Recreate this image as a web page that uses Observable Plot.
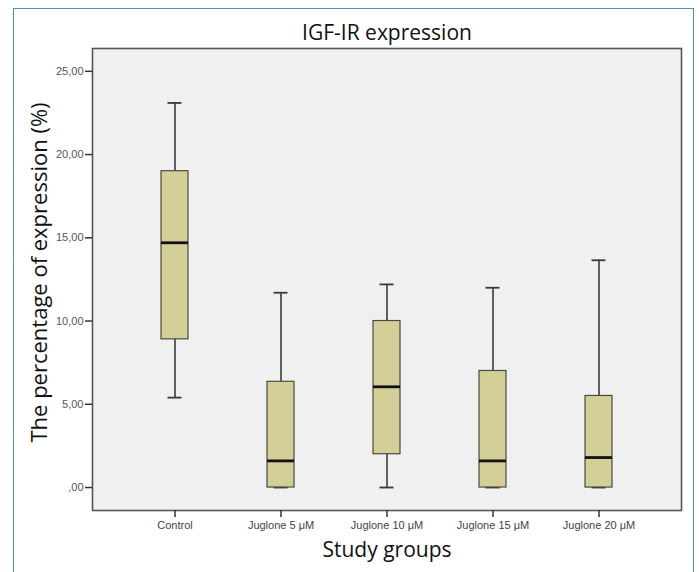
<!DOCTYPE html>
<html>
<head>
<meta charset="utf-8">
<script src="https://cdn.jsdelivr.net/npm/d3@7"></script>
<script src="https://cdn.jsdelivr.net/npm/@observablehq/plot@0.6"></script>
<style>
  html, body { margin: 0; padding: 0; background: #fff; }
  #wrap { position: relative; width: 699px; height: 572px; overflow: hidden; }
  #border { position: absolute; left: 13px; top: 8px; width: 681px; height: 600px;
            border: 1.5px solid #4a93bd; box-sizing: border-box; }
  #chart { position: absolute; left: 0; top: 0; }
</style>
</head>
<body>
<div id="wrap"><div id="border"></div><div id="chart"></div></div>
<script>
const groups = ["Control", "Juglone 5 μM", "Juglone 10 μM", "Juglone 15 μM", "Juglone 20 μM"];
const lowerWhisker = [5.4, 0, 0, 0, 0];
const q1 = [8.9, 0, 2.0, 0, 0];
const median = [14.7, 1.6, 6.05, 1.6, 1.8];
const q3 = [19.0, 6.35, 10.0, 7.0, 5.5];
const upperWhisker = [23.1, 11.7, 12.2, 12.0, 13.65];
const yTicks = [0, 5, 10, 15, 20, 25];
const title = "IGF-IR expression";
const xLabel = "Study groups";
const yLabel = "The percentage of expression (%)";

const data = groups.map((g, i) => ({
  group: g, lo: lowerWhisker[i], q1: q1[i], med: median[i], q3: q3[i], hi: upperWhisker[i]
}));

const fmt = d => d === 0 ? ",00" : d.toFixed(2).replace(".", ",");
const labelFont = "'Open Sans', 'Noto Sans', sans-serif";

const chart = Plot.plot({
  width: 699,
  height: 572,
  marginLeft: 92,
  marginRight: 18,
  marginTop: 48,
  marginBottom: 62,
  style: { background: "transparent", fontFamily: "'Liberation Sans', Arial, sans-serif" },
  x: { type: "band", domain: groups, paddingInner: 0.745, paddingOuter: 0.65 },
  y: { domain: [-1.38, 26.37] },
  marks: [
    Plot.frame({ fill: "#f0f0f0", stroke: "none" }),
    Plot.ruleX(data, { x: "group", y1: "lo", y2: "hi", stroke: "#3a3a3a", strokeWidth: 1.6 }),
    Plot.tickY(data, { x: "group", y: "hi", stroke: "#3a3a3a", strokeWidth: 1.8, insetLeft: 6.5, insetRight: 6.5 }),
    Plot.tickY(data, { x: "group", y: "lo", stroke: "#3a3a3a", strokeWidth: 1.8, insetLeft: 6.5, insetRight: 6.5 }),
    Plot.barY(data, { x: "group", y1: "q1", y2: "q3", fill: "#d4cf99", stroke: "#4a4a40", strokeWidth: 1.2 }),
    Plot.tickY(data, { x: "group", y: "med", stroke: "#111", strokeWidth: 2.8 }),
    Plot.frame({ stroke: "#555", strokeWidth: 1.6 }),
    Plot.axisY(yTicks, { tickFormat: fmt, tickSize: 7, tickPadding: 2, fontSize: 11, fill: "#555", stroke: "#333", strokeWidth: 1.5, label: null }),
    Plot.axisX({ tickSize: 7, tickPadding: 4, fontSize: 11, fill: "#444", stroke: "#333", strokeWidth: 1.5, label: null }),
    Plot.text([title], { text: d => d, frameAnchor: "top", dy: -15, fontSize: 21, fontFamily: labelFont, fill: "#111", lineAnchor: "middle" }),
    Plot.text([xLabel], { text: d => d, frameAnchor: "bottom", dy: 40, fontSize: 21, fontFamily: labelFont, fill: "#111", lineAnchor: "middle" }),
    Plot.text([yLabel], { text: d => d, frameAnchor: "left", dx: -53, dy: -7, rotate: -90, textAnchor: "middle", fontSize: 22, fontFamily: labelFont, fill: "#111", lineAnchor: "middle" })
  ]
});
document.getElementById("chart").appendChild(chart);
</script>
</body>
</html>
